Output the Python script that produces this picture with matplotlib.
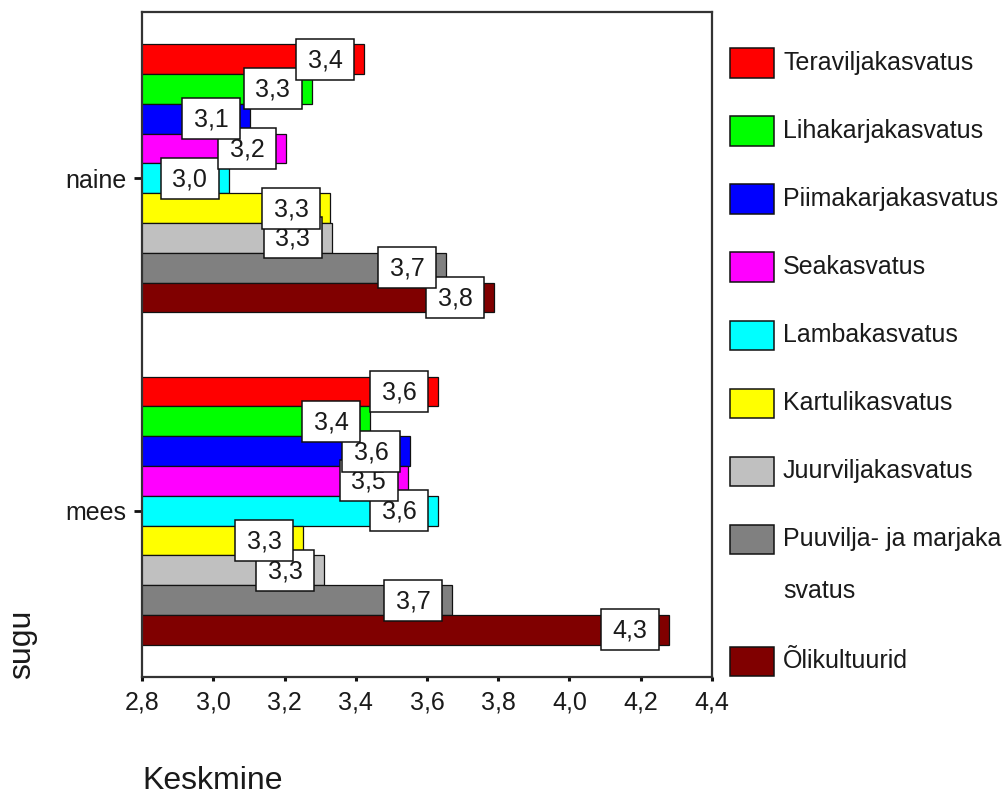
import matplotlib
matplotlib.use('Agg')
import matplotlib.pyplot as plt
import matplotlib.transforms as mtransforms
from matplotlib.patches import Rectangle
from matplotlib.ticker import FuncFormatter
import numpy as np

plt.rcParams['font.family'] = ['Liberation Sans', 'DejaVu Sans']

# ---- data ----
groups = ['naine', 'mees']
series = ['Teraviljakasvatus', 'Lihakarjakasvatus', 'Piimakarjakasvatus',
          'Seakasvatus', 'Lambakasvatus', 'Kartulikasvatus',
          'Juurviljakasvatus', 'Puuvilja- ja marjakasvatus', 'Õlikultuurid']
naine = [3.423, 3.277, 3.103, 3.204, 3.044, 3.328, 3.333, 3.653, 3.788]
mees = [3.631, 3.440, 3.553, 3.546, 3.631, 3.253, 3.311, 3.670, 4.279]
colors = ['#FF0000', '#00FF00', '#0000FF', '#FF00FF', '#00FFFF',
          '#FFFF00', '#C0C0C0', '#808080', '#800000']
xticks = [2.8, 3.0, 3.2, 3.4, 3.6, 3.8, 4.0, 4.2, 4.4]
x_title = 'Keskmine'
y_title = 'sugu'

values = [naine, mees]

W, H = 1007, 794
fig = plt.figure(figsize=(W / 100, H / 100), dpi=100)


def fx(px):
    return px / W


def fy(py):
    return 1 - py / H


FS = 18
FS_TITLE = 23
TXT = '#1a1a1a'
ax = fig.add_axes([fx(142), fy(677), fx(712) - fx(142), fy(12) - fy(677)])

n = len(series)
h = 0.0896
for i, name in enumerate(series):
    ys = [g + (i - (n - 1) / 2) * h for g in range(len(groups))]
    vals = [values[g][i] for g in range(len(groups))]
    ax.barh(ys, vals, height=h, color=colors[i], edgecolor='#111111',
            linewidth=0.9, zorder=2)

# value labels (earlier series drawn on top)
for g in range(len(groups)):
    for i in reversed(range(n)):
        v = values[g][i]
        y = g + (i - (n - 1) / 2) * h
        z = 5 + (n - 1 - i) * 0.1
        trans = mtransforms.ScaledTranslation(v, y, ax.transData)
        rect = Rectangle((-10 - 58, -20.5), 58, 41, transform=trans,
                         facecolor='white', edgecolor='#111111', linewidth=1.1,
                         zorder=z, clip_on=False)
        ax.add_artist(rect)
        ax.text(-39, -1, f"{v:.1f}".replace('.', ','), transform=trans,
                ha='center', va='center', fontsize=FS, color=TXT,
                zorder=z + 0.05, clip_on=False)

ax.set_xlim(xticks[0], xticks[-1])
ax.set_ylim(len(groups) - 0.5, -0.5)
ax.set_xticks(xticks)
ax.xaxis.set_major_formatter(FuncFormatter(lambda x, p: f"{x:.1f}".replace('.', ',')))
ax.set_yticks(range(len(groups)))
ax.set_yticklabels(groups)
ax.tick_params(axis='x', length=3, width=2.2, pad=7, labelsize=FS,
               colors='#111111', labelcolor=TXT)
ax.tick_params(axis='y', length=6, width=2, pad=5, labelsize=FS,
               colors='#111111', labelcolor=TXT)
for sp in ax.spines.values():
    sp.set_linewidth(1.6)
    sp.set_color('#333333')

# axis titles
fig.text(fx(142), fy(789), x_title, ha='left', va='baseline',
         fontsize=FS_TITLE, color=TXT)
fig.text(fx(22), fy(644), y_title, ha='center', va='center', rotation=90,
         fontsize=FS_TITLE, color=TXT)

# legend
leg_y0, leg_step = 63, 68
yc = leg_y0
for i, name in enumerate(series):
    fig.add_artist(Rectangle((fx(730), fy(yc + 14.5)), 44 / W, 29 / H,
                             transform=fig.transFigure, facecolor=colors[i],
                             edgecolor='#111111', linewidth=1.1))
    lines = [name] if len(name) <= 20 else [name[:20], name[20:]]
    for k, ln in enumerate(lines):
        fig.text(fx(783), fy(yc + k * 52), ln, ha='left', va='center',
                 fontsize=FS, color=TXT)
    yc += leg_step + (len(lines) - 1) * 54

fig.savefig('out.png', dpi=100)
